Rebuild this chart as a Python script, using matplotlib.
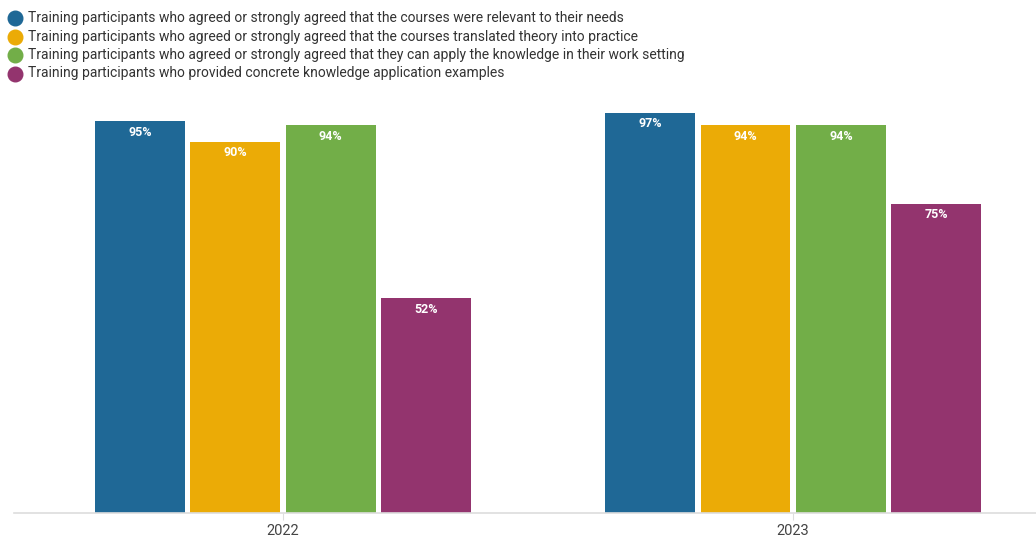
import matplotlib
matplotlib.use("Agg")
import matplotlib.pyplot as plt
from matplotlib.lines import Line2D
import numpy as np

plt.rcParams['font.family'] = ['Roboto', 'DejaVu Sans']

# data
years = ['2022', '2023']
series_labels = [
    'Training participants who agreed or strongly agreed that the courses were relevant to their needs',
    'Training participants who agreed or strongly agreed that the courses translated theory into practice',
    'Training participants who agreed or strongly agreed that they can apply the knowledge in their work setting',
    'Training participants who provided concrete knowledge application examples',
]
relevant = [95, 97]
theory_practice = [90, 94]
apply_work = [94, 94]
examples = [52, 75]
colors = ['#1f6896', '#ebab06', '#72ae48', '#93346e']

series = [relevant, theory_practice, apply_work, examples]

W, H = 1036, 538
fig = plt.figure(figsize=(W / 100, H / 100), dpi=100)
ax = fig.add_axes([14 / W, 25 / H, 1022 / W, 412.6 / H])

x = np.arange(len(years))
step = 0.187
width = 0.176
offsets = (np.arange(len(series)) - 1.5) * step

for i, vals in enumerate(series):
    bars = ax.bar(x + offsets[i], vals, width, color=colors[i], zorder=2)
    for b, v in zip(bars, vals):
        ax.text(b.get_x() + b.get_width() / 2, v - 2.7, f'{v}%', ha='center', va='center',
                color='white', fontsize=9, fontweight='bold', zorder=3)

ax.set_xlim(-0.527, 1.476)
ax.set_ylim(0, 100)
ax.set_yticks([])
ax.set_xticks(x)
ax.set_xticklabels(years, fontsize=10.5, color='#444444')
ax.tick_params(axis='x', length=5, color='#dddddd', pad=3)
for s in ['top', 'right', 'left']:
    ax.spines[s].set_visible(False)
ax.spines['bottom'].set_color('#dddddd')
ax.spines['bottom'].set_linewidth(1.2)

# legend, drawn by hand in the top-left corner
for i, label in enumerate(series_labels):
    yy = 1 - (18 + 18.5 * i) / H
    fig.add_artist(Line2D([15 / W], [yy], marker='o', markersize=10.5, color=colors[i],
                          transform=fig.transFigure, linestyle='none'))
    fig.text(28 / W, yy, label, va='center', ha='left', fontsize=10, color='#333333')

fig.savefig('out.png', dpi=100)
